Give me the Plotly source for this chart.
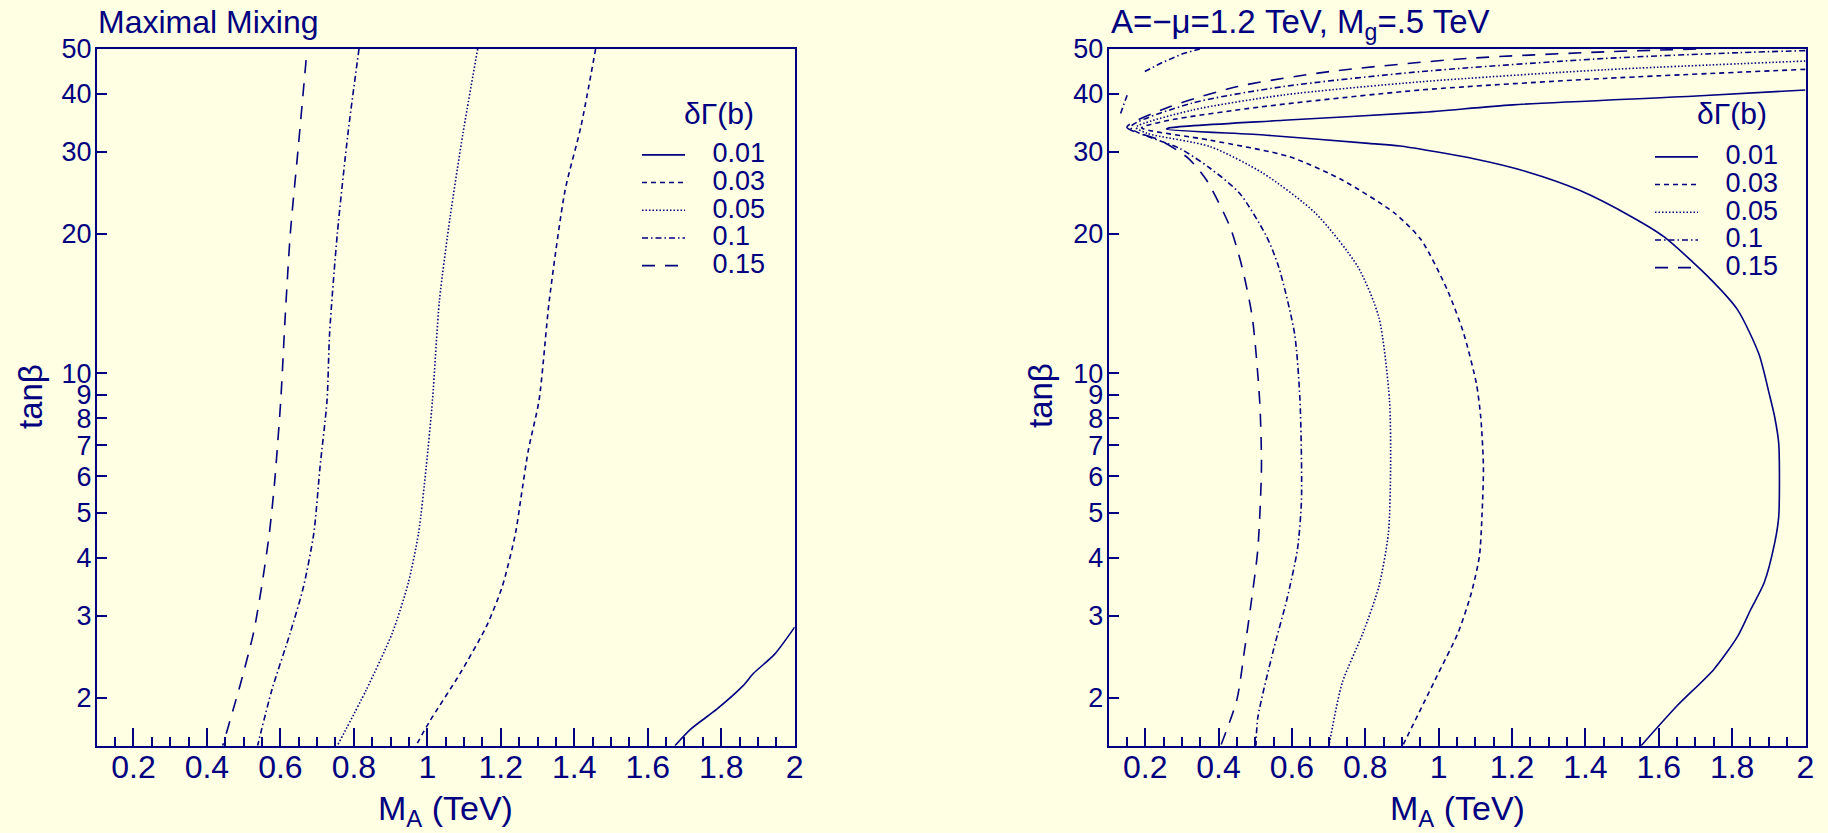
import math
import plotly.graph_objects as go

# ---------------- data ----------------
levels = ["0.01", "0.03", "0.05", "0.1", "0.15"]

# Left panel: Maximal Mixing
L_001_m = [1.674, 1.717, 1.788, 1.859, 1.888, 1.945, 2.0]
L_001_t = [1.575, 1.71, 1.888, 2.119, 2.256, 2.478, 2.837]
L_003_m = [1.458, 1.418, 1.375, 1.332, 1.304, 1.275, 1.254, 1.24, 1.204, 1.161, 1.09, 1.005, 0.969]
L_003_t = [50, 34.0, 24.8, 14.36, 8.74, 6.83, 5.33, 4.52, 3.47, 2.85, 2.26, 1.77, 1.575]
L_005_m = [1.137, 1.097, 1.062, 1.033, 1.014, 0.997, 0.976, 0.948, 0.905, 0.834, 0.755]
L_005_t = [50, 32.9, 21.7, 14.36, 8.74, 6.29, 4.52, 3.53, 2.76, 2.08, 1.575]
L_01_m = [0.814, 0.784, 0.755, 0.734, 0.727, 0.708, 0.691, 0.663, 0.627, 0.577, 0.538]
L_01_t = [50, 32.9, 20.0, 12.2, 8.74, 6.29, 4.52, 3.47, 2.76, 2.08, 1.575]
L_015_m = [0.670, 0.648, 0.627, 0.613, 0.601, 0.584, 0.570, 0.549, 0.527, 0.492, 0.443]
L_015_t = [47.3, 30.3, 20.0, 13.2, 8.74, 5.79, 4.52, 3.47, 2.76, 2.15, 1.575]

# Right panel: A=-mu=1.2 TeV, Mg=.5 TeV
R_001_m = [2.0, 1.702, 1.202, 0.952, 0.577, 0.265, 0.258, 0.531, 0.809, 0.894, 1.096, 1.240,
           1.384, 1.528, 1.614, 1.743, 1.815, 1.873, 1.901, 1.916, 1.927, 1.927, 1.916, 1.887,
           1.851, 1.815, 1.750, 1.650, 1.552]
R_001_t = [40.8, 39.6, 37.9, 36.5, 35.1, 33.8, 33.6, 32.6, 31.3, 30.9, 29.0, 27.2,
           24.8, 21.7, 19.7, 15.9, 13.7, 11.0, 9.04, 8.05, 7.06, 4.91, 4.31, 3.53,
           3.10, 2.71, 2.30, 1.92, 1.575]
R_003_m = [2.0, 1.452, 0.952, 0.514, 0.265, 0.19, 0.377, 0.593, 0.737, 0.881, 0.952,
           1.024, 1.068, 1.103, 1.115, 1.122, 1.118, 1.111, 1.089, 1.053, 0.996, 0.902]
R_003_t = [45.2, 43.2, 40.8, 37.5, 35.1, 33.8, 31.8, 29.3, 26.1, 22.1, 19.4,
           15.1, 12.2, 9.49, 8.0, 6.29, 4.91, 4.03, 3.36, 2.76, 2.23, 1.575]
R_005_m = [2.0, 1.452, 0.952, 0.577, 0.327, 0.175, 0.205, 0.377, 0.521, 0.665, 0.78,
           0.837, 0.866, 0.869, 0.863, 0.837, 0.794, 0.737, 0.701]
R_005_t = [47.1, 45.1, 42.5, 39.8, 36.9, 33.9, 32.9, 30.8, 27.0, 22.1, 16.95,
           13.2, 8.74, 6.29, 4.52, 3.47, 2.76, 2.15, 1.575]
R_01_m = [2.0, 1.818, 1.452, 0.952, 0.577, 0.327, 0.16, 0.295, 0.376, 0.458, 0.531, 0.564,
          0.607, 0.622, 0.626, 0.615, 0.586, 0.55, 0.507, 0.502]
R_01_t = [49.6, 49.1, 47.7, 44.7, 41.5, 38.2, 33.9, 30.5, 27.7, 24.4, 19.7, 16.95,
          12.2, 8.74, 5.33, 4.17, 3.25, 2.54, 1.81, 1.575]
R_015_m = [1.702, 1.452, 1.077, 0.702, 0.452, 0.265, 0.15, 0.240, 0.317, 0.367, 0.431, 0.464,
           0.492, 0.512, 0.517, 0.507, 0.49, 0.471, 0.45, 0.406]
R_015_t = [50, 49.3, 47.7, 44.7, 41.5, 37.5, 33.9, 31.8, 29.1, 26.1, 20.7, 16.95,
           13.2, 8.74, 6.29, 4.17, 3.25, 2.54, 1.98, 1.575]
# small extra pieces of the 0.1 contour near the top-left corner
R_01b_m = [0.199, 0.245, 0.304, 0.349]
R_01b_t = [44.7, 46.7, 48.9, 50]
R_01c_m = [0.133, 0.151]
R_01c_t = [36.3, 39.8]

x_ticks = [0.2, 0.4, 0.6, 0.8, 1.0, 1.2, 1.4, 1.6, 1.8, 2.0]
x_ticktext = ["0.2", "0.4", "0.6", "0.8", "1", "1.2", "1.4", "1.6", "1.8", "2"]
y_ticks = [2, 3, 4, 5, 6, 7, 8, 9, 10, 20, 30, 40, 50]
y_ticktext = [str(v) for v in y_ticks]

# ---------------- styling ----------------
NAVY = "#000080"
BG = "#ffffe3"
FONT = "Liberation Sans, Arial, sans-serif"
dashes = ["solid", "5px,4px", "1.5px,2px", "6px,3px,1.5px,3px", "13px,10px"]
LW = 1.6

W, H = 1828, 833

def px(xs):               # screen x -> paper
    return xs / W

def py(ys):               # screen y -> paper
    return 1 - ys / H

left_sets = [(L_001_m, L_001_t), (L_003_m, L_003_t), (L_005_m, L_005_t),
             (L_01_m, L_01_t), (L_015_m, L_015_t)]
right_sets = [(R_001_m, R_001_t), (R_003_m, R_003_t), (R_005_m, R_005_t),
              (R_01_m, R_01_t), (R_015_m, R_015_t)]

fig = go.Figure()

NB = "\u00a0\u00a0\u00a0"

def label(s):
    return "<span style='font-size:27px'>" + NB + s + "</span>"

for i, (m, t) in enumerate(left_sets):
    fig.add_trace(go.Scatter(x=m, y=t, mode="lines", xaxis="x", yaxis="y",
                             line=dict(color=NAVY, width=LW, dash=dashes[i],
                                       shape="spline", smoothing=0.7),
                             name=label(levels[i]), legend="legend"))
for i, (m, t) in enumerate(right_sets):
    fig.add_trace(go.Scatter(x=m, y=t, mode="lines", xaxis="x2", yaxis="y2",
                             line=dict(color=NAVY, width=LW, dash=dashes[i],
                                       shape="spline", smoothing=0.7),
                             name=label(levels[i]), legend="legend2"))
for m, t in [(R_01b_m, R_01b_t), (R_01c_m, R_01c_t)]:
    fig.add_trace(go.Scatter(x=m, y=t, mode="lines", xaxis="x2", yaxis="y2",
                             line=dict(color=NAVY, width=LW, dash=dashes[3]),
                             showlegend=False))

yr = [math.log10(1.575), math.log10(50)]
xd1 = [px(96.7), px(794.7)]
xd2 = [px(1108.5), px(1805.5)]
yd = [py(745.7), py(49)]

def xaxis(domain, anchor):
    return dict(domain=domain, anchor=anchor, range=[0.1, 2.0], tickmode="array",
                tickvals=x_ticks, ticktext=x_ticktext, ticks="inside", ticklen=18,
                tickwidth=1.5, tickcolor=NAVY, showline=True, linecolor=NAVY,
                linewidth=1.5, mirror=True, showgrid=False, zeroline=False,
                ticklabelstandoff=-8,
                tickfont=dict(family=FONT, size=32, color=NAVY),
                minor=dict(ticks="inside", ticklen=9, tick0=0.1, dtick=0.05,
                           tickwidth=1.5, tickcolor=NAVY, showgrid=False))

def yaxis(anchor):
    return dict(domain=yd, anchor=anchor, type="log", range=yr, tickmode="array",
                tickvals=y_ticks, ticktext=y_ticktext, ticks="inside", ticklen=11,
                tickwidth=1.5, tickcolor=NAVY, showline=True, linecolor=NAVY,
                linewidth=1.5, mirror=True, showgrid=False, zeroline=False,
                ticklabelstandoff=-2,
                tickfont=dict(family=FONT, size=27, color=NAVY))

def yaxis_long(over, anchor):
    return dict(domain=yd, anchor=anchor, overlaying=over, type="log", range=yr,
                tickmode="array", tickvals=[10], ticks="inside", ticklen=22,
                tickwidth=1.5, tickcolor=NAVY, showticklabels=False, showline=False,
                showgrid=False, zeroline=False)

def legend(xs, ys):
    return dict(x=px(xs), y=py(ys), xanchor="left", yanchor="top", bgcolor="rgba(0,0,0,0)",
                borderwidth=0, font=dict(family=FONT, size=19, color=NAVY),
                itemwidth=43, tracegroupgap=0)

ann = []
def add_text(text, xs, ys, size, xanchor="left", angle=0):
    ann.append(dict(text=text, x=px(xs), y=py(ys), xref="paper", yref="paper",
                    showarrow=False, xanchor=xanchor, yanchor="middle", textangle=angle,
                    font=dict(family=FONT, size=size, color=NAVY)))

add_text("Maximal Mixing", 96, 22, 32)
add_text("A=−μ=1.2 TeV, M<sub>g</sub>=.5 TeV", 1109, 24, 33)
add_text("tanβ", 30, 396, 33, xanchor="center", angle=-90)
add_text("tanβ", 1040, 396, 33, xanchor="center", angle=-90)
add_text("M<sub>A</sub> (TeV)", 445.7, 810, 34, xanchor="center")
add_text("M<sub>A</sub> (TeV)", 1457, 810, 34, xanchor="center")
add_text("δΓ(b)", 719, 113, 30, xanchor="center")
add_text("δΓ(b)", 1731.5, 113, 30, xanchor="center")

fig.update_layout(
    width=W, height=H, autosize=False,
    margin=dict(l=0, r=0, t=0, b=0, pad=0, autoexpand=False),
    paper_bgcolor=BG, plot_bgcolor=BG,
    font=dict(family=FONT, color=NAVY),
    xaxis=xaxis(xd1, "y"), yaxis=yaxis("x"),
    xaxis2=xaxis(xd2, "y2"), yaxis2=yaxis("x2"),
    yaxis3=yaxis_long("y", "x"), yaxis4=yaxis_long("y2", "x2"),
    legend=legend(637, 136), legend2=legend(1650, 138),
    annotations=ann,
    showlegend=True,
)

fig.write_html(
    "out.html",
    config={"displayModeBar": False},
    post_script="document.body.style.margin='0';document.body.style.background='" + BG + "';",
)
